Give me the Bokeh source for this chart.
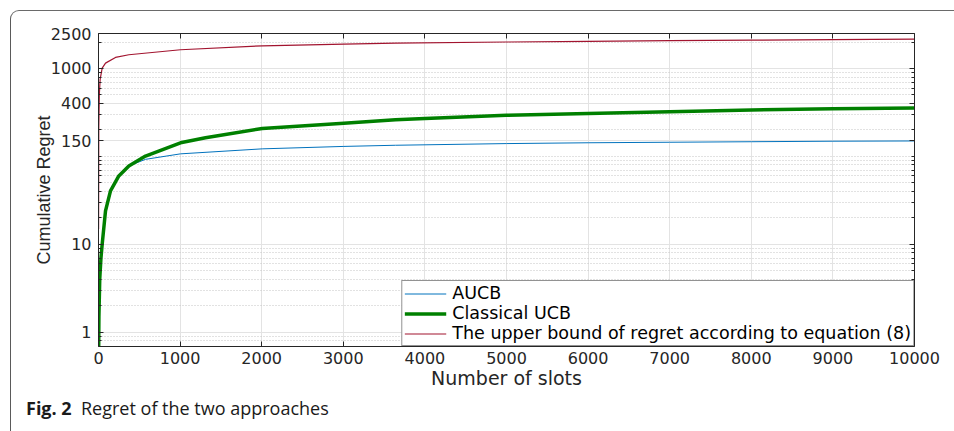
from bokeh.plotting import figure
from bokeh.models import (Range1d, FixedTicker, LinearAxis, LogAxis, Legend, LegendItem,
                          Div, CustomJSTickFormatter)
from bokeh.embed import file_html
from bokeh.resources import INLINE

# ---- data ----
t_aucb = [1, 5, 15, 30, 45, 86, 147, 249, 372, 576, 1005, 2006, 3007, 3640, 5000,
          6000, 7000, 8000, 9000, 10000]
aucb = [0.5, 1.5, 4, 7, 10, 24, 40.6, 60, 78, 92.7, 107, 122, 130, 134, 140,
        143, 145, 147, 149, 150]

t_ucb = [1, 5, 15, 30, 45, 86, 147, 249, 372, 576, 1005, 1311, 2006, 3007, 3640, 4000,
         5000, 6000, 7000, 8000, 9000, 10000]
ucb = [0.5, 1.5, 4, 7, 10, 24, 40.6, 60, 78, 101, 143, 163, 208, 239, 261, 270,
       294, 308, 322, 338, 348, 356]

t_bound = [1, 3, 10, 20, 45, 86, 208, 372, 1005, 2006, 3007, 3640, 5000, 6000, 7000,
           8000, 9000, 10000]
bound = [15, 200, 500, 750, 1010, 1151, 1336, 1433, 1633, 1812, 1889, 1940, 2000, 2030,
         2070, 2100, 2130, 2160]

x_ticks = [0, 1000, 2000, 3000, 4000, 5000, 6000, 7000, 8000, 9000, 10000]
y_ticks = [1, 10, 150, 400, 1000, 2500]
y_minor = [0.8, 0.9, 2, 3, 4, 5, 6, 7, 8, 9, 20, 30, 40, 50, 60, 70, 80, 90, 100,
           200, 300, 500, 600, 700, 800, 900, 2000]

caption_bold = "Fig. 2"
caption_text = "Regret of the two approaches"

TXT = "#262626"
AX = "#262626"

p = figure(width=954, height=431, y_axis_type="log",
           x_range=Range1d(0, 10000), y_range=Range1d(0.69, 2500),
           output_backend="svg", toolbar_location=None,
           min_border_left=98, min_border_right=40, min_border_top=33,
           min_border_bottom=85, background_fill_color="white",
           border_fill_color="white", outline_line_color=None)

r1 = p.line(t_aucb, aucb, line_color="#0072BD", line_width=1)
r2 = p.line(t_ucb, ucb, line_color="#008000", line_width=3.5)
r3 = p.line(t_bound, bound, line_color="#A2142F", line_width=1.2)

# axes
xa = p.xaxis[0]
xa.ticker = FixedTicker(ticks=x_ticks)
xa.axis_label = "Number of slots"
ya = p.yaxis[0]
ya.ticker = FixedTicker(ticks=y_ticks, minor_ticks=y_minor)
ya.axis_label = "Cumulative Regret"
ya.major_label_overrides = {v: str(v) for v in y_ticks}

for ax in (xa, ya):
    ax.axis_line_color = AX
    ax.major_tick_line_color = AX
    ax.minor_tick_line_color = AX
    ax.major_tick_in = 5
    ax.major_tick_out = 0
    ax.minor_tick_in = 3
    ax.minor_tick_out = 0
    ax.major_label_text_color = TXT
    ax.major_label_text_font = "DejaVu Sans"
    ax.major_label_text_font_size = "16px"
    ax.axis_label_text_color = TXT
    ax.axis_label_text_font_style = "normal"

xa.major_label_standoff = 5
xa.axis_label_text_font = "DejaVu Sans"
xa.axis_label_text_font_size = "19px"
xa.axis_label_standoff = 0
ya.major_label_standoff = 7
ya.axis_label_text_font = "Liberation Sans"
ya.axis_label_text_font_size = "18px"
ya.axis_label_standoff = -6

blank = CustomJSTickFormatter(code="return ''")
top = LinearAxis(ticker=FixedTicker(ticks=x_ticks), formatter=blank,
                 major_tick_in=5, major_tick_out=0, minor_tick_in=0, minor_tick_out=0,
                 axis_line_color=AX, major_tick_line_color=AX, major_label_standoff=0)
p.add_layout(top, "above")
right = LogAxis(ticker=FixedTicker(ticks=y_ticks, minor_ticks=y_minor), formatter=blank,
                major_tick_in=5, major_tick_out=0, minor_tick_in=3, minor_tick_out=0,
                axis_line_color=AX, major_tick_line_color=AX, minor_tick_line_color=AX,
                major_label_standoff=0)
p.add_layout(right, "right")

# grids
p.xgrid.grid_line_color = "#e3e3e3"
p.ygrid.grid_line_color = "#e3e3e3"
p.ygrid.minor_grid_line_color = "#c4c4c4"
p.ygrid.minor_grid_line_dash = "1 2"
p.xgrid.minor_grid_line_color = None

# legend
legend = Legend(items=[LegendItem(label="AUCB", renderers=[r1]),
                       LegendItem(label="Classical UCB", renderers=[r2]),
                       LegendItem(label="The upper bound of regret according to equation (8)",
                                  renderers=[r3])],
                location="bottom_right", margin=0, padding=2, spacing=0,
                border_line_color=AX, border_line_width=1,
                background_fill_color="white", background_fill_alpha=1,
                label_text_font="DejaVu Sans", label_text_font_size="17.5px",
                label_text_color="black", label_text_line_height=1.0,
                glyph_width=42, glyph_height=19, label_height=19, label_standoff=6)
p.add_layout(legend)

# figure frame + caption (HTML overlay)
frame = Div(
    width=944, height=421,
    text=('<div style="position:absolute;left:15px;top:385px;white-space:nowrap;'
          'font-family:\'Open Sans\';font-size:18px;color:#1a1a1a;line-height:24px">'
          '<b>%s</b>&nbsp; %s</div>') % (caption_bold, caption_text),
    styles={"position": "absolute", "left": "10px", "top": "10px",
            "border-left": "1.3px solid #5a5a5a", "border-top": "1.3px solid #6a6a6a",
            "border-top-left-radius": "9px", "box-sizing": "border-box",
            "pointer-events": "none", "margin": "0", "padding": "0"})

open("out.html", "w").write(file_html([p, frame], INLINE))
